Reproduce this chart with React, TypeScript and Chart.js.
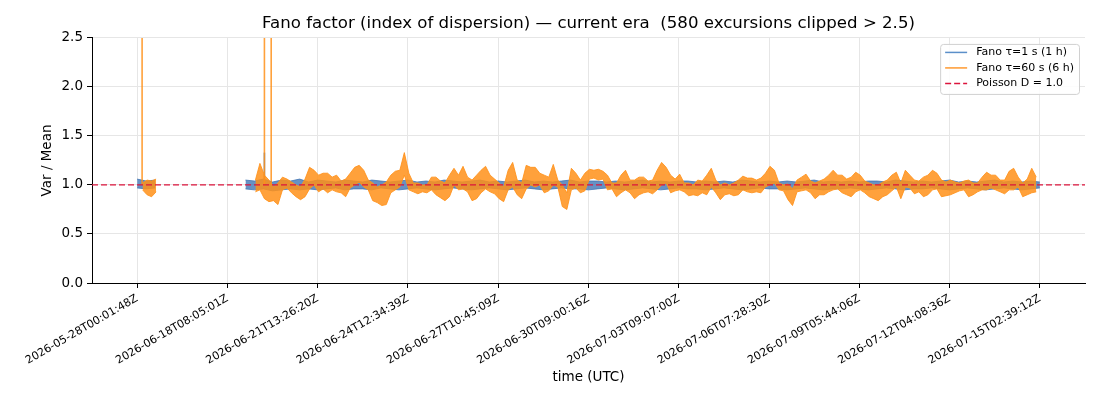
import { useEffect, useRef } from "react";
import { Chart, registerables } from "chart.js";

Chart.register(...registerables);

// x is an index of the (uneven) time axis: 0 .. 100, tick every 10
const tickLabels = [
  "2026-05-28T00:01:48Z",
  "2026-06-18T08:05:01Z",
  "2026-06-21T13:26:20Z",
  "2026-06-24T12:34:39Z",
  "2026-06-27T10:45:09Z",
  "2026-06-30T09:00:16Z",
  "2026-07-03T09:07:00Z",
  "2026-07-06T07:28:30Z",
  "2026-07-09T05:44:06Z",
  "2026-07-12T04:08:36Z",
  "2026-07-15T02:39:12Z",
];
const tickPositions = [0, 10, 20, 30, 40, 50, 60, 70, 80, 90, 100];

// Fano tau=1 s (1 h window): upper / lower envelope of the noisy trace
const blueStep = 1;
const blueStart1 = 0;
const blueUpper1 = [1.06, 1.04, 1.05];
const blueLower1 = [0.97, 0.96, 0.97];
const blueStart2 = 12;
const blueUpper2 = [
  1.05, 1.04, 1.06, 1.03, 1.05, 1.04, 1.06, 1.03, 1.05, 1.04,
  1.03, 1.05, 1.04, 1.03, 1.05, 1.04, 1.03, 1.04, 1.05, 1.03,
  1.04, 1.03, 1.05, 1.04, 1.03, 1.04, 1.05, 1.03, 1.04, 1.03,
  1.04, 1.05, 1.03, 1.04, 1.03, 1.04, 1.05, 1.03, 1.04, 1.04,
  1.03, 1.04, 1.03, 1.04, 1.05, 1.03, 1.04, 1.03, 1.04, 1.04,
  1.03, 1.04, 1.03, 1.04, 1.03, 1.05, 1.04, 1.03, 1.04, 1.03,
  1.04, 1.03, 1.04, 1.05, 1.03, 1.04, 1.03, 1.04, 1.03, 1.04,
  1.04, 1.03, 1.05, 1.04, 1.03, 1.04, 1.03, 1.04, 1.05, 1.03,
  1.04, 1.03, 1.04, 1.05, 1.03, 1.04, 1.03, 1.04, 1.03,
];
const blueLower2 = [
  0.96, 0.95, 0.96, 0.94, 0.95, 0.96, 0.95, 0.96, 0.95, 0.96,
  0.97, 0.95, 0.96, 0.96, 0.95, 0.97, 0.96, 0.95, 0.96, 0.97,
  0.96, 0.95, 0.96, 0.97, 0.96, 0.95, 0.96, 0.97, 0.96, 0.95,
  0.96, 0.97, 0.96, 0.95, 0.96, 0.97, 0.96, 0.96, 0.95, 0.96,
  0.97, 0.96, 0.95, 0.96, 0.97, 0.96, 0.95, 0.96, 0.97, 0.96,
  0.96, 0.95, 0.96, 0.97, 0.96, 0.95, 0.96, 0.97, 0.96, 0.96,
  0.95, 0.96, 0.97, 0.96, 0.95, 0.96, 0.96, 0.97, 0.96, 0.95,
  0.96, 0.97, 0.96, 0.95, 0.96, 0.96, 0.97, 0.96, 0.95, 0.96,
  0.97, 0.96, 0.95, 0.96, 0.97, 0.96, 0.95, 0.96, 0.97,
];
// single tau=1 s excursion
const blueSpikeX = [14.1];
const blueSpikeTop = 1.33;

// Fano tau=60 s (6 h window): upper / lower envelope
const orangeStep = 0.5;
const orangeStart1 = 0.6;
const orangeUpper1 = [1.02, 1.05, 1.04, 1.06];
const orangeLower1 = [0.95, 0.9, 0.88, 0.93];
const orangeStart2 = 13.1;
const orangeUpper2 = [
  1.05, 1.22, 1.1, 1.05, 0.98, 1.02, 1.08, 1.06, 1.03, 1.0,
  0.98, 1.06, 1.18, 1.15, 1.1, 1.12, 1.12, 1.08, 1.1, 1.04,
  1.06, 1.12, 1.18, 1.2, 1.15, 1.05, 1.02, 0.98, 1.0, 1.03,
  1.1, 1.14, 1.15, 1.33, 1.12, 1.02, 1.02, 1.0, 1.0, 1.08,
  1.08, 1.04, 1.02, 1.1, 1.17, 1.1, 1.19, 1.08, 1.05, 1.1,
  1.15, 1.19, 1.1, 1.06, 1.02, 0.98, 1.15, 1.23, 1.05, 1.02,
  1.2, 1.18, 1.18, 1.12, 1.1, 1.08, 1.21, 1.05, 1.0, 0.92,
  1.17, 1.12, 1.05, 1.12, 1.16, 1.15, 1.16, 1.14, 1.1, 1.02,
  1.02, 1.1, 1.15, 1.05, 1.05, 1.08, 1.08, 1.04, 1.05, 1.15,
  1.23, 1.18, 1.1, 1.06, 1.11, 1.02, 1.02, 1.0, 1.05, 1.04,
  1.1, 1.17, 1.05, 1.0, 1.02, 1.0, 1.02, 1.05, 1.09, 1.07,
  1.07, 1.05, 1.07, 1.12, 1.19, 1.15, 1.02, 1.0, 1.01, 0.96,
  1.05, 1.08, 1.11, 1.04, 1.02, 1.04, 1.06, 1.1, 1.15, 1.1,
  1.1, 1.06, 1.08, 1.13, 1.1, 1.04, 1.02, 1.0, 1.0, 1.03,
  1.05, 1.1, 1.13, 1.02, 1.15, 1.1, 1.05, 1.04, 1.08, 1.1,
  1.15, 1.12, 1.05, 1.03, 1.05, 1.03, 1.02, 1.04, 1.05, 1.02,
  1.02, 1.08, 1.13, 1.1, 1.1, 1.05, 1.05, 1.14, 1.17, 1.08,
  1.02, 1.06, 1.17, 1.08,
];
const orangeLower2 = [
  0.93, 0.95, 0.86, 0.83, 0.84, 0.8, 0.95, 0.97, 0.92, 0.88,
  0.85, 0.88, 0.96, 1.0, 0.93, 0.96, 0.92, 0.95, 0.93, 0.92,
  0.88, 0.97, 1.0, 1.03, 0.98, 0.95, 0.84, 0.82, 0.79, 0.8,
  0.92, 0.95, 0.98, 1.1, 0.95, 0.93, 0.91, 0.93, 0.92, 0.95,
  0.9, 0.87, 0.84, 0.88, 1.0, 0.95, 0.96, 0.93, 0.84, 0.86,
  0.92, 0.96, 0.93, 0.91, 0.86, 0.83, 0.95, 0.98, 0.9, 0.86,
  0.96, 1.0, 0.98, 1.0, 0.92, 0.94, 1.0, 0.98, 0.78, 0.75,
  0.95, 0.97, 0.92, 0.94, 1.06, 1.07, 1.05, 1.06, 0.95, 0.96,
  0.88, 0.92, 0.95, 0.92, 0.86, 0.9, 0.92, 0.93, 0.91, 0.95,
  1.0, 1.02, 0.92, 0.94, 0.95, 0.93, 0.89, 0.9, 0.89, 0.92,
  0.9, 0.98, 0.92, 0.85, 0.9, 0.91, 0.89, 0.9, 0.95, 0.93,
  0.92, 0.93, 0.92, 0.98, 1.0, 1.02, 0.95, 0.94, 0.85, 0.79,
  0.93, 0.94, 0.95, 0.92, 0.86, 0.9, 0.9, 0.93, 0.95, 0.96,
  0.92, 0.9, 0.88, 0.93, 0.95, 0.92, 0.88, 0.86, 0.84, 0.88,
  0.9, 0.94, 0.98, 0.86, 0.98, 0.97, 0.91, 0.93, 0.88, 0.9,
  0.95, 0.96, 0.88, 0.89, 0.9, 0.92, 0.94, 0.95, 0.88, 0.9,
  0.93, 0.95, 0.95, 0.97, 0.95, 0.93, 0.91, 0.95, 0.95, 0.98,
  0.88, 0.9, 0.92, 0.93,
];

// the few tau=60 s excursions that shoot past the clip level
const spikeX = [0.55, 14.1, 14.85];
const spikeBase = 1.0;
const spikeTop = 3.0;

const poissonLevel = 1.0;

const FONT = "'DejaVu Sans', sans-serif";
const BLUE = "rgba(65,118,180,0.8)";
const ORANGE = "rgba(255,145,25,0.85)";

// one x/y list, with a null point between the segments so the line breaks
function toPoints(segs: { start: number; values: number[] }[], step: number) {
  const pts: { x: number; y: number | null }[] = [];
  segs.forEach((seg, s) => {
    if (s > 0) pts.push({ x: seg.start - step / 2, y: null });
    seg.values.forEach((v, i) => pts.push({ x: seg.start + i * step, y: v }));
  });
  return pts;
}

// vertical excursion lines, broken apart with nulls
function toSpikes(xs: number[], base: number, top: number) {
  const pts: { x: number; y: number | null }[] = [];
  xs.forEach((x) => pts.push({ x, y: base }, { x, y: top }, { x, y: null }));
  return pts;
}

// centre the title over the plot area, like matplotlib does
const titleOverPlot = {
  id: "titleOverPlot",
  afterLayout(chart: any) {
    if (chart.titleBlock) {
      chart.titleBlock.left = chart.chartArea.left;
      chart.titleBlock.right = chart.chartArea.right;
    }
  },
};

// matplotlib-style legend in the upper right corner of the plot
const insideLegend = {
  id: "insideLegend",
  afterDraw(chart: any) {
    const { ctx, chartArea } = chart;
    const items = chart.data.datasets
      .filter((ds: any) => ds.inLegend)
      .map((ds: any) => ({
        label: ds.label,
        color: ds.legendColor || ds.borderColor,
        dash: ds.borderDash || [],
      }));
    ctx.save();
    ctx.font = `11px ${FONT}`;
    const textW = Math.max(...items.map((it: any) => ctx.measureText(it.label).width));
    const pad = 5;
    const handle = 22;
    const gap = 9;
    const row = 15.5;
    const w = pad + handle + gap + textW + pad;
    const h = 50;
    const right = chartArea.right - 6;
    const top = chartArea.top + 6;
    const left = right - w;

    ctx.fillStyle = "rgba(255,255,255,0.85)";
    ctx.strokeStyle = "#d0d0d0";
    ctx.lineWidth = 1;
    ctx.beginPath();
    ctx.roundRect(left + 0.5, top + 0.5, w, h, 3);
    ctx.fill();
    ctx.stroke();

    items.forEach((it: any, i: number) => {
      const y = top + 8.5 + i * row;
      ctx.strokeStyle = it.color;
      ctx.lineWidth = 1.5;
      ctx.setLineDash(it.dash);
      ctx.beginPath();
      ctx.moveTo(left + pad, y);
      ctx.lineTo(left + pad + handle, y);
      ctx.stroke();
      ctx.setLineDash([]);
      ctx.fillStyle = "#000";
      ctx.textBaseline = "middle";
      ctx.textAlign = "left";
      ctx.fillText(it.label, left + pad + handle + gap, y);
    });
    ctx.restore();
  },
};

export default function App() {
  const canvasRef = useRef<HTMLCanvasElement | null>(null);
  const chartRef = useRef<Chart | null>(null);

  useEffect(() => {
    if (!canvasRef.current) return;
    if (chartRef.current) chartRef.current.destroy();

    const blueHi = toPoints(
      [
        { start: blueStart1, values: blueUpper1 },
        { start: blueStart2, values: blueUpper2 },
      ],
      blueStep
    );
    const blueLo = toPoints(
      [
        { start: blueStart1, values: blueLower1 },
        { start: blueStart2, values: blueLower2 },
      ],
      blueStep
    );
    const orangeHi = toPoints(
      [
        { start: orangeStart1, values: orangeUpper1 },
        { start: orangeStart2, values: orangeUpper2 },
      ],
      orangeStep
    );
    const orangeLo = toPoints(
      [
        { start: orangeStart1, values: orangeLower1 },
        { start: orangeStart2, values: orangeLower2 },
      ],
      orangeStep
    );

    const xMin = tickPositions[0] - 5;
    const xMax = tickPositions[tickPositions.length - 1] + 5;

    const band = {
      borderWidth: 1,
      borderJoinStyle: "round",
      pointRadius: 0,
      tension: 0,
    };

    chartRef.current = new Chart(canvasRef.current, {
      type: "line",
      data: {
        datasets: [
          {
            ...band,
            label: "Fano τ=1 s (1 h)",
            inLegend: true,
            legendColor: "#5b8fc9",
            data: blueHi,
            borderColor: BLUE,
            backgroundColor: BLUE,
            fill: "+1",
            order: 4,
          } as any,
          {
            ...band,
            label: "Fano τ=1 s (1 h) low",
            data: blueLo,
            borderColor: BLUE,
            fill: false,
            order: 4,
          } as any,
          {
            label: "Fano τ=1 s (1 h) excursions",
            data: toSpikes(blueSpikeX, spikeBase, blueSpikeTop),
            borderColor: BLUE,
            borderWidth: 1.6,
            pointRadius: 0,
            fill: false,
            order: 3,
          } as any,
          {
            ...band,
            label: "Fano τ=60 s (6 h)",
            inLegend: true,
            legendColor: "#ff9a30",
            data: orangeHi,
            borderColor: ORANGE,
            backgroundColor: ORANGE,
            fill: "+1",
            order: 2,
          } as any,
          {
            ...band,
            label: "Fano τ=60 s (6 h) low",
            data: orangeLo,
            borderColor: ORANGE,
            fill: false,
            order: 2,
          } as any,
          {
            label: "Fano τ=60 s (6 h) excursions",
            data: toSpikes(spikeX, spikeBase, spikeTop),
            borderColor: ORANGE,
            borderWidth: 1.6,
            pointRadius: 0,
            fill: false,
            order: 1,
          } as any,
          {
            label: "Poisson D = 1.0",
            inLegend: true,
            data: [
              { x: xMin, y: poissonLevel },
              { x: xMax, y: poissonLevel },
            ],
            borderColor: "#dc143c",
            borderDash: [6, 3],
            borderWidth: 1.3,
            pointRadius: 0,
            fill: false,
            order: 0,
          } as any,
        ],
      },
      options: {
        responsive: true,
        maintainAspectRatio: false,
        animation: false,
        layout: { padding: { left: 0, right: 15, top: 0, bottom: 0 } },
        plugins: {
          legend: { display: false },
          tooltip: { enabled: false },
          title: {
            display: true,
            text: "Fano factor (index of dispersion) — current era  (580 excursions clipped > 2.5)",
            color: "#000",
            font: { family: FONT, size: 16.6, weight: "normal" },
            padding: { top: 14, bottom: 4 },
          },
        },
        scales: {
          x: {
            type: "linear",
            min: xMin,
            max: xMax,
            afterBuildTicks: (scale: any) => {
              scale.ticks = tickPositions.map((v) => ({ value: v }));
            },
            afterFit: (scale: any) => {
              scale.height = 117;
            },
            ticks: {
              autoSkip: false,
              minRotation: 30,
              maxRotation: 30,
              padding: 4,
              color: "#000",
              font: { family: FONT, size: 11 },
              callback: (v: any) => tickLabels[tickPositions.indexOf(v)] ?? "",
            },
            grid: { color: "#e6e6e6", tickColor: "#000", tickLength: 5 },
            border: { display: true, color: "#000", width: 1 },
            title: {
              display: true,
              text: "time (UTC)",
              color: "#000",
              font: { family: FONT, size: 13.5 },
              padding: { top: 4, bottom: 14 },
            },
          },
          y: {
            min: 0,
            max: 2.5,
            afterFit: (scale: any) => {
              scale.width = 92;
            },
            ticks: {
              stepSize: 0.5,
              padding: 4,
              color: "#000",
              font: { family: FONT, size: 13.5 },
              callback: (v: any) => Number(v).toFixed(1),
            },
            grid: { color: "#e6e6e6", tickColor: "#000", tickLength: 5 },
            border: { display: true, color: "#000", width: 1 },
            title: {
              display: true,
              text: "Var / Mean",
              color: "#000",
              font: { family: FONT, size: 13.5 },
              padding: { top: 39, bottom: 0 },
            },
          },
        },
      },
      plugins: [titleOverPlot, insideLegend],
    });

    return () => {
      if (chartRef.current) chartRef.current.destroy();
      chartRef.current = null;
    };
  }, []);

  return (
    <div style={{ position: "absolute", left: 0, top: 0, width: 1100, height: 400, background: "#fff" }}>
      <canvas ref={canvasRef} />
    </div>
  );
}
